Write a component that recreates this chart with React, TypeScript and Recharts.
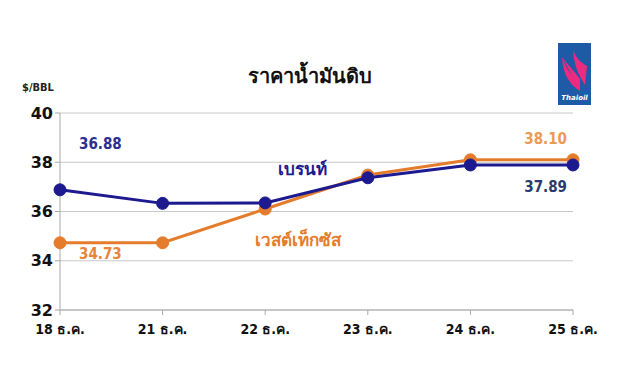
import React from 'react';
import { LineChart, Line, XAxis, YAxis, CartesianGrid, LabelList } from 'recharts';

const categories = ['18 ธ.ค.', '21 ธ.ค.', '22 ธ.ค.', '23 ธ.ค.', '24 ธ.ค.', '25 ธ.ค.'];
const brent = [36.88, 36.33, 36.35, 37.37, 37.89, 37.89];
const wti = [34.73, 34.73, 36.1, 37.48, 38.1, 38.1];
const yTicks = [32, 34, 36, 38, 40];
const brentName = 'เบรนท์';
const wtiName = 'เวสต์เท็กซัส';
const title = 'ราคาน้ำมันดิบ';
const unit = '$/BBL';

const NAVY = '#1c1a8e';
const ORANGE = '#e57c2c';
const FONT = "Tahoma, 'DejaVu Sans', 'Noto Sans', sans-serif";
const CFONT = "'DejaVu Sans Condensed', 'DejaVu Sans', sans-serif";

const data = categories.map((c, i) => ({ cat: c, brent: brent[i], wti: wti[i] }));

const brentLabel = (props: any) => {
  const { x, y, index, value } = props;
  if (index === 0) {
    return (
      <text x={x + 19} y={y - 41} fill="#2b2f92" fontSize={15} fontWeight="bold" fontFamily={CFONT}>
        {Number(value).toFixed(2)}
      </text>
    );
  }
  if (index === 5) {
    return (
      <text x={x - 6} y={y + 27} textAnchor="end" fill="#2a3a6e" fontSize={15} fontWeight="bold" fontFamily={CFONT}>
        {Number(value).toFixed(2)}
      </text>
    );
  }
  if (index === 2) {
    return (
      <text x={x + 13} y={y - 28} fill={NAVY} fontSize={17} fontWeight="bold" fontFamily={FONT}>
        {brentName}
      </text>
    );
  }
  return null;
};

const wtiLabel = (props: any) => {
  const { x, y, index, value } = props;
  if (index === 0) {
    return (
      <text x={x + 19} y={y + 16} fill="#e8843a" fontSize={15} fontWeight="bold" fontFamily={CFONT}>
        {Number(value).toFixed(2)}
      </text>
    );
  }
  if (index === 5) {
    return (
      <text x={x - 6} y={y - 16} textAnchor="end" fill="#eb9a55" fontSize={15} fontWeight="bold" fontFamily={CFONT}>
        {Number(value).toFixed(2)}
      </text>
    );
  }
  if (index === 2) {
    return (
      <text x={x - 10} y={y + 37} fill={ORANGE} fontSize={17} fontWeight="bold" fontFamily={FONT}>
        {wtiName}
      </text>
    );
  }
  return null;
};

const Logo = () => (
  <svg width={33} height={62} style={{ position: 'absolute', left: 558, top: 43 }}>
    <rect x={0} y={0} width={33} height={62} fill="#1f5aa6" />
    <path d="M4 14 C8 26 14 34 20 38 L22 48 C12 42 5 32 4 14 Z" fill="#ec2a7f" />
    <path d="M4 14 C10 22 16 28 22 36 L22 48 Z" fill="#ec2a7f" />
    <path d="M15 7 C18 15 23 20 29 23 L27 42 C22 34 16 24 15 7 Z" fill="#ec2a7f" />
    <text x={16.5} y={57} textAnchor="middle" fill="#ffffff" fontSize={7} fontStyle="italic" fontWeight="bold" fontFamily={FONT}>
      Thaioil
    </text>
  </svg>
);

export default function App() {
  return (
    <div style={{ position: 'absolute', left: 0, top: 0, width: 640, height: 390, background: '#fff', fontFamily: FONT }}>
      <div style={{ position: 'absolute', left: 0, top: 60, width: 620, textAlign: 'center', fontSize: 20, fontWeight: 'bold', color: '#111' }}>
        {title}
      </div>
      <div style={{ position: 'absolute', left: 22, top: 81, fontSize: 11, fontWeight: 'bold', color: '#222', fontFamily: CFONT }}>{unit}</div>
      <Logo />
      <div style={{ position: 'absolute', left: 0, top: 0 }}>
        <LineChart width={640} height={390} data={data} margin={{ top: 113, right: 67, bottom: 45, left: 20 }}>
          <CartesianGrid vertical={false} stroke="#c8c8c8" />
          <XAxis
            dataKey="cat"
            stroke="#a8a8a8"
            tickSize={5}
            height={35}
            tick={{ fill: '#111', fontSize: 14, fontWeight: 'bold', fontFamily: CFONT }}
            tickMargin={9}
          />
          <YAxis
            domain={[32, 40]}
            ticks={yTicks}
            width={40}
            stroke="#a8a8a8"
            tickSize={5}
            tick={{ fill: '#111', fontSize: 16, fontWeight: 'bold', fontFamily: FONT }}
          />
          <Line type="linear" dataKey="wti" stroke={ORANGE} strokeWidth={3} dot={{ r: 6, fill: ORANGE, stroke: ORANGE, strokeWidth: 1 }} isAnimationActive={false}>
            <LabelList dataKey="wti" content={wtiLabel} />
          </Line>
          <Line type="linear" dataKey="brent" stroke={NAVY} strokeWidth={3} dot={{ r: 6, fill: NAVY, stroke: NAVY, strokeWidth: 1 }} isAnimationActive={false}>
            <LabelList dataKey="brent" content={brentLabel} />
          </Line>
        </LineChart>
      </div>
    </div>
  );
}
